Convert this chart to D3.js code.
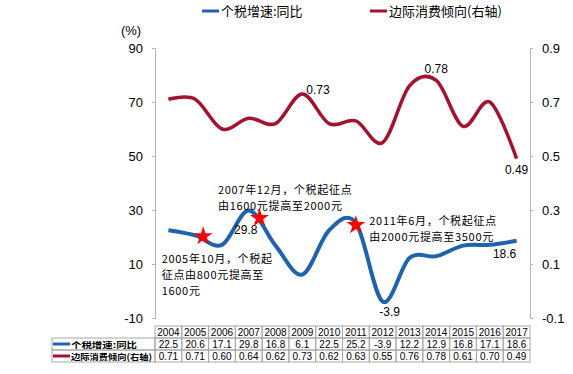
<!DOCTYPE html>
<html>
<head>
<meta charset="utf-8">
<script src="https://cdn.jsdelivr.net/npm/d3@7"></script>
<style>
  body { margin: 0; background: #fff; }
  svg text { font-family: Arial, "Liberation Sans", "Noto Sans CJK SC", sans-serif; fill: #000; }
  .cjk { font-family: "Noto Sans CJK SC", sans-serif; }
</style>
</head>
<body>
<div id="chart"></div>
<script>
// chart data
var years = ["2004","2005","2006","2007","2008","2009","2010","2011","2012","2013","2014","2015","2016","2017"];
var taxGrowth = [22.5, 20.6, 17.1, 29.8, 16.8, 6.1, 22.5, 25.2, -3.9, 12.2, 12.9, 16.8, 17.1, 18.6];
var mpc = [0.71, 0.71, 0.60, 0.64, 0.62, 0.73, 0.62, 0.63, 0.55, 0.76, 0.78, 0.61, 0.70, 0.49];
var leftTicks = [-10, 10, 30, 50, 70, 90];
var rightTicks = [-0.1, 0.1, 0.3, 0.5, 0.7, 0.9];
var seriesNames = ["个税增速:同比", "边际消费倾向(右轴)"];

// star markers: fractional year index + value
var stars = [
  {idx: 1.3, v: 20.3},
  {idx: 3.4, v: 27.0},
  {idx: 7.0, v: 24.4}
];
var notes = [
  {lines: ["2007年12月，个税起征点", "由1600元提高至2000元"], idx: 1.85, v: 36},
  {lines: ["2011年6月，个税起征点", "由2000元提高至3500元"], idx: 7.5, v: 24.4},
  {lines: ["2005年10月，个税起", "征点由800元提高至", "1600元"], idx: -0.25, v: 10.4}
];

var blue = "#1f62ad", red = "#a3122f";

var W = 573, H = 374;
var svg = d3.select("#chart").append("svg").attr("width", W).attr("height", H);

var plotL = 155, plotR = 530, plotT = 48, plotB = 318;

var x = d3.scaleBand().domain(years).range([plotL, plotR]);
var xi = function(i) { return plotL + x.step() * (i + 0.5); };
var yL = d3.scaleLinear().domain([-10, 90]).range([plotB, plotT]);
var yR = d3.scaleLinear().domain([-0.1, 0.9]).range([plotB, plotT]);

// axes (plain hyphen for negatives, like the source)
var axisL = svg.append("g").attr("transform", "translate(" + plotL + ",0)")
  .call(d3.axisLeft(yL).tickValues(leftTicks).tickSize(3).tickPadding(9)
    .tickFormat(function(d) { return String(d); }));
var axisR = svg.append("g").attr("transform", "translate(" + plotR + ",0)")
  .call(d3.axisRight(yR).tickValues(rightTicks).tickSize(3).tickPadding(9)
    .tickFormat(function(d) { return d.toFixed(1); }));
[axisL, axisR].forEach(function(a) {
  a.select(".domain").attr("stroke", "#b4b4b4");
  a.selectAll(".tick line").attr("stroke", "#b4b4b4");
  a.selectAll(".tick text").attr("font-size", 13).attr("fill", "#000");
});

svg.append("text").attr("x", 131).attr("y", 35).attr("text-anchor", "middle")
  .attr("font-size", 13).text("(%)");

// lines
var curve = d3.curveCatmullRom.alpha(0);
var lineL = d3.line().x(function(d, i) { return xi(i); }).y(function(d) { return yL(d); }).curve(curve);
var lineR = d3.line().x(function(d, i) { return xi(i); }).y(function(d) { return yR(d); }).curve(curve);

svg.append("path").datum(mpc).attr("d", lineR).attr("fill", "none")
  .attr("stroke", red).attr("stroke-width", 3.5);
svg.append("path").datum(taxGrowth).attr("d", lineL).attr("fill", "none")
  .attr("stroke", blue).attr("stroke-width", 4);

// data labels
var lblR = [{i: 5, dx: 4, dy: 0, anchor: "start"}, {i: 10, dx: 0, dy: -7, anchor: "middle"}, {i: 13, dx: 0, dy: 15, anchor: "middle"}];
lblR.forEach(function(l) {
  svg.append("text").attr("x", xi(l.i) + l.dx).attr("y", yR(mpc[l.i]) + l.dy)
    .attr("text-anchor", l.anchor).attr("font-size", 12).text(mpc[l.i].toFixed(2));
});
var lblL = [{i: 3, dx: -3, dy: 23}, {i: 8, dx: 7, dy: 14}, {i: 13, dx: -12, dy: 17}];
lblL.forEach(function(l) {
  svg.append("text").attr("x", xi(l.i) + l.dx).attr("y", yL(taxGrowth[l.i]) + l.dy)
    .attr("text-anchor", "middle").attr("font-size", 12).text(taxGrowth[l.i]);
});

// stars
var starSym = d3.symbol().type(d3.symbolStar).size(110);
svg.selectAll(".star").data(stars).enter().append("path")
  .attr("d", starSym)
  .attr("transform", function(d) { return "translate(" + xi(d.idx) + "," + yL(d.v) + ")"; })
  .attr("fill", "#ff0000");

// annotations
notes.forEach(function(n) {
  var t = svg.append("text").attr("class", "cjk").attr("font-size", 11)
    .attr("letter-spacing", 0.7)
    .attr("x", xi(n.idx)).attr("y", yL(n.v));
  n.lines.forEach(function(s, k) {
    t.append("tspan").attr("x", xi(n.idx)).attr("dy", k === 0 ? 0 : 16).text(s);
  });
});

// legend
var legX = [202, 370];
seriesNames.forEach(function(name, k) {
  svg.append("line").attr("x1", legX[k]).attr("x2", legX[k] + 17).attr("y1", 11).attr("y2", 11)
    .attr("stroke", k === 0 ? blue : red).attr("stroke-width", 3);
  svg.append("text").attr("class", "cjk").attr("x", legX[k] + 19).attr("y", 16)
    .attr("font-size", 13).text(name);
});

// data table
var rowTop = 326, rowH = 12, headL = 52;
var tbl = svg.append("g");
var grid = "#a8a8a8";
years.forEach(function(yr, i) {
  var cx = x(yr);
  [0, 1, 2].forEach(function(r) {
    tbl.append("rect").attr("x", cx).attr("y", rowTop + r * rowH)
      .attr("width", x.bandwidth()).attr("height", rowH)
      .attr("fill", "none").attr("stroke", grid).attr("stroke-width", 1);
  });
  tbl.append("text").attr("x", cx + x.bandwidth() / 2).attr("y", rowTop + rowH - 2)
    .attr("text-anchor", "middle").attr("font-size", 10).text(yr);
  tbl.append("text").attr("x", cx + x.bandwidth() / 2).attr("y", rowTop + 2 * rowH - 2)
    .attr("text-anchor", "middle").attr("font-size", 10).text(taxGrowth[i]);
  tbl.append("text").attr("x", cx + x.bandwidth() / 2).attr("y", rowTop + 3 * rowH - 2)
    .attr("text-anchor", "middle").attr("font-size", 10).text(mpc[i].toFixed(2));
});
var headW = [66, 81];
seriesNames.forEach(function(name, k) {
  var ry = rowTop + (k + 1) * rowH;
  tbl.append("rect").attr("x", headL).attr("y", ry).attr("width", plotL - headL).attr("height", rowH)
    .attr("fill", "none").attr("stroke", grid);
  tbl.append("line").attr("x1", headL + 1).attr("x2", headL + 18).attr("y1", ry + rowH / 2).attr("y2", ry + rowH / 2)
    .attr("stroke", k === 0 ? blue : red).attr("stroke-width", 3);
  tbl.append("text").attr("class", "cjk").attr("x", headL + 19).attr("y", ry + rowH - 2.5)
    .attr("font-size", 8.5).attr("font-weight", "bold")
    .attr("textLength", headW[k]).attr("lengthAdjust", "spacingAndGlyphs").text(name);
});
</script>
</body>
</html>
